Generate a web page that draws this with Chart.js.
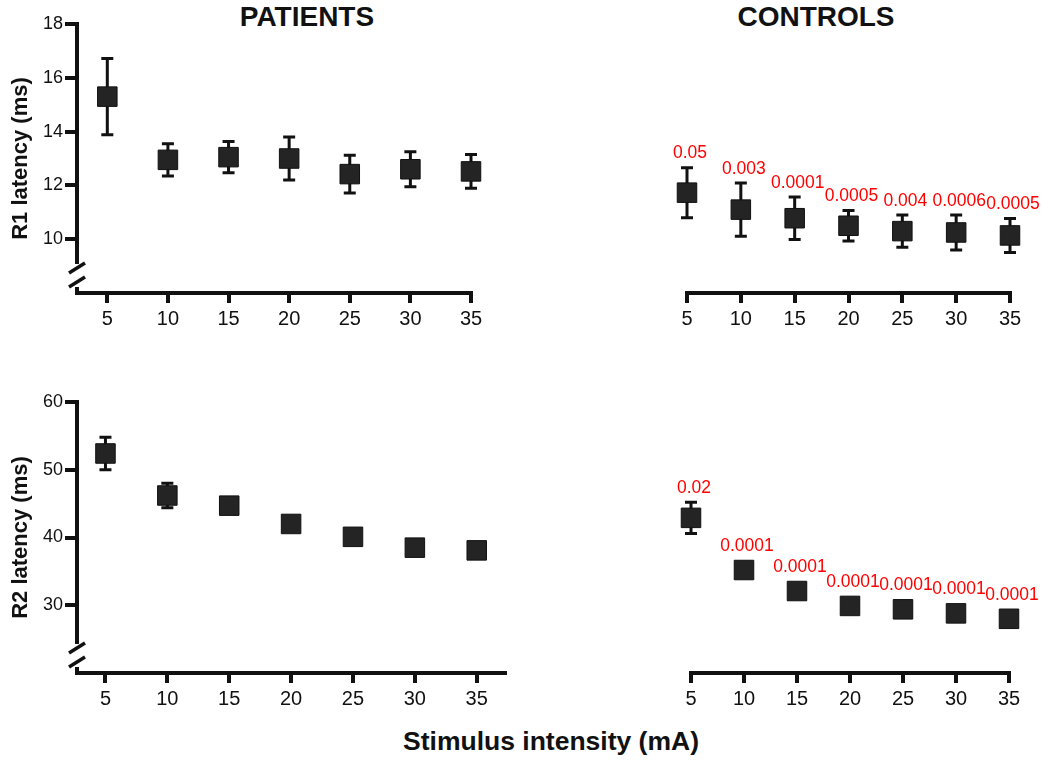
<!DOCTYPE html>
<html lang="en">
<head>
  <meta charset="UTF-8">
  <title>R1 / R2 latency vs stimulus intensity</title>
  <script src="https://cdn.jsdelivr.net/npm/chart.js"></script>
  <style>
    body {
      margin: 0;
      background: #fff;
      font-family: Arial, 'Liberation Sans', Helvetica, sans-serif;
    }
    #page {
      position: relative;
      width: 1050px;
      height: 767px;
      overflow: hidden;
    }
    canvas {
      position: absolute;
    }
    .label {
      position: absolute;
      font-weight: bold;
      font-size: 28px;
      line-height: 28px;
      color: #111;
      white-space: nowrap;
      transform: translateX(-50%);
    }
  </style>
</head>
<body>
  <div id="page">
    <div class="label" style="left:307px; top:3px;">PATIENTS</div>
    <div class="label" style="left:816px; top:3px;">CONTROLS</div>

    <canvas id="r1Patients" width="520" height="340" style="left:0; top:0;"></canvas>
    <canvas id="r1Controls" width="530" height="340" style="left:520px; top:0;"></canvas>
    <canvas id="r2Patients" width="520" height="350" style="left:0; top:360px;"></canvas>
    <canvas id="r2Controls" width="530" height="350" style="left:520px; top:360px;"></canvas>

    <div class="label" style="left:551px; top:728px; font-size:26.5px; line-height:26px;">Stimulus intensity (mA)</div>
  </div>

  <script>
    const FONT = "Arial, 'Liberation Sans', Helvetica, sans-serif";
    Chart.defaults.font.family = FONT;

    // stimulus intensities (mA) and tick labels
    const intensity = [5, 10, 15, 20, 25, 30, 35];
    const xTicks = [5, 10, 15, 20, 25, 30, 35];
    const r1Ticks = [10, 12, 14, 16, 18];
    const r2Ticks = [30, 40, 50, 60];

    // R1 latency (ms): mean and error
    const r1PatientsMean = [15.3, 12.95, 13.05, 13.0, 12.42, 12.6, 12.52];
    const r1PatientsErr = [1.42, 0.6, 0.58, 0.8, 0.7, 0.65, 0.63];
    const r1ControlsMean = [11.73, 11.1, 10.78, 10.5, 10.3, 10.25, 10.14];
    const r1ControlsErr = [0.93, 0.99, 0.79, 0.57, 0.6, 0.65, 0.63];
    const r1PValues = ['0.05', '0.003', '0.0001', '0.0005', '0.004', '0.0006', '0.0005'];

    // R2 latency (ms): mean and error
    const r2PatientsMean = [52.4, 46.2, 44.7, 42.0, 40.1, 38.5, 38.1];
    const r2PatientsErr = [2.4, 1.8, 1.0, 0.9, 0.8, 0.6, 0.5];
    const r2ControlsMean = [42.9, 35.2, 32.1, 29.9, 29.4, 28.8, 28.0];
    const r2ControlsErr = [2.3, 0.7, 0.6, 0.5, 0.5, 0.5, 0.5];
    const r2PValues = ['0.02', '0.0001', '0.0001', '0.0001', '0.0001', '0.0001', '0.0001'];

    const INK = '#111';

    // vertical error bars with caps, drawn behind the squares
    const errorBars = {
      id: 'errorBars',
      beforeDatasetsDraw(chart) {
        const { ctx, scales: { x, y } } = chart;
        chart.data.datasets.forEach(ds => {
          ctx.save();
          ctx.strokeStyle = INK;
          ctx.lineWidth = 3;
          ds.data.forEach((p, i) => {
            const px = x.getPixelForValue(p.x);
            const top = y.getPixelForValue(p.y + ds.err[i]);
            const bot = y.getPixelForValue(p.y - ds.err[i]);
            ctx.beginPath();
            ctx.moveTo(px, top); ctx.lineTo(px, bot);
            ctx.moveTo(px - 6, top); ctx.lineTo(px + 6, top);
            ctx.moveTo(px - 6, bot); ctx.lineTo(px + 6, bot);
            ctx.stroke();
          });
          ctx.restore();
        });
      }
    };

    // red p-values above the control points
    const pLabels = {
      id: 'pLabels',
      afterDatasetsDraw(chart) {
        const { ctx, scales: { x, y } } = chart;
        chart.data.datasets.forEach(ds => {
          if (!ds.pValues) return;
          ctx.save();
          ctx.fillStyle = '#ff0000';
          ctx.font = '17.5px ' + FONT;
          ctx.textAlign = 'center';
          ctx.textBaseline = 'middle';
          ds.data.forEach((p, i) => {
            const px = x.getPixelForValue(p.x);
            const top = Math.min(y.getPixelForValue(p.y + ds.err[i]), y.getPixelForValue(p.y) - 10);
            ctx.fillText(ds.pValues[i], px + 3, top - 14);
          });
          ctx.restore();
        });
      }
    };

    // broken y axis near the origin
    const axisBreak = {
      id: 'axisBreak',
      afterDraw(chart) {
        const { ctx, chartArea: { left, bottom } } = chart;
        const gapTop = bottom - 29, gapBot = bottom - 6;
        ctx.save();
        ctx.fillStyle = '#fff';
        ctx.fillRect(left - 4, gapTop, 8, gapBot - gapTop);
        ctx.strokeStyle = INK;
        ctx.lineWidth = 3.5;
        [bottom - 25, bottom - 11].forEach(yc => {
          ctx.beginPath();
          ctx.moveTo(left - 8, yc + 5);
          ctx.lineTo(left + 8, yc - 5);
          ctx.stroke();
        });
        ctx.restore();
      }
    };

    function makePanel(id, cfg) {
      const ctx = document.getElementById(id).getContext('2d');
      const plugins = [errorBars, pLabels];
      if (cfg.showY) plugins.push(axisBreak);
      return new Chart(ctx, {
        type: 'scatter',
        data: {
          datasets: [{
            data: intensity.map((v, i) => ({ x: v, y: cfg.mean[i] })),
            err: cfg.err,
            pValues: cfg.pValues,
            pointStyle: 'rect',
            pointRadius: 13.8,
            pointHoverRadius: 13.8,
            backgroundColor: '#242424',
            borderColor: INK,
            borderWidth: 1,
            clip: false
          }]
        },
        options: {
          responsive: false,
          animation: false,
          events: [],
          layout: { padding: cfg.padding },
          plugins: { legend: { display: false }, tooltip: { enabled: false } },
          scales: {
            x: {
              type: 'linear',
              min: cfg.xMin,
              max: cfg.xMax,
              afterBuildTicks: s => { s.ticks = xTicks.map(v => ({ value: v })); },
              afterFit: s => { s.height = 36; },
              grid: { drawOnChartArea: false, drawTicks: true, tickLength: 10, lineWidth: 4, tickWidth: 4, color: INK, tickColor: INK },
              border: { display: true, width: 4, color: INK },
              ticks: { font: { size: 20 }, color: INK, padding: 4, maxRotation: 0, autoSkip: false }
            },
            y: {
              type: 'linear',
              display: cfg.showY,
              min: cfg.yMin,
              max: cfg.yMax,
              afterBuildTicks: s => { s.ticks = cfg.yTicks.map(v => ({ value: v })); },
              afterFit: s => { s.width = 77; },
              grid: { drawOnChartArea: false, drawTicks: true, tickLength: 12, lineWidth: 4, tickWidth: 4, color: INK, tickColor: INK },
              border: { display: true, width: 4, color: INK },
              ticks: { font: { size: 18 }, color: INK, padding: 2 },
              title: {
                display: true,
                text: cfg.yTitle,
                color: INK,
                font: { size: 22, weight: 'bold' },
                padding: { top: 8, bottom: 0 }
              }
            }
          }
        },
        plugins: plugins
      });
    }

    makePanel('r1Patients', {
      mean: r1PatientsMean, err: r1PatientsErr, showY: true,
      xMin: 2.5, xMax: 35, yMin: 8, yMax: 18, yTicks: r1Ticks, yTitle: 'R1 latency (ms)',
      padding: { top: 24, right: 49, bottom: 11, left: 0 }
    });
    makePanel('r1Controls', {
      mean: r1ControlsMean, err: r1ControlsErr, pValues: r1PValues, showY: false,
      xMin: 5, xMax: 35, yMin: 8, yMax: 18, yTicks: r1Ticks, yTitle: '',
      padding: { top: 24, right: 40, bottom: 11, left: 90 }
    });
    makePanel('r2Patients', {
      mean: r2PatientsMean, err: r2PatientsErr, showY: true,
      xMin: 2.7, xMax: 37.3, yMin: 20, yMax: 60, yTicks: r2Ticks, yTitle: 'R2 latency (ms)',
      padding: { top: 42, right: 10, bottom: 1, left: 0 }
    });
    makePanel('r2Controls', {
      mean: r2ControlsMean, err: r2ControlsErr, pValues: r2PValues, showY: false,
      xMin: 5, xMax: 35, yMin: 20, yMax: 60, yTicks: r2Ticks, yTitle: '',
      padding: { top: 42, right: 41, bottom: 1, left: 94 }
    });
  </script>
</body>
</html>
